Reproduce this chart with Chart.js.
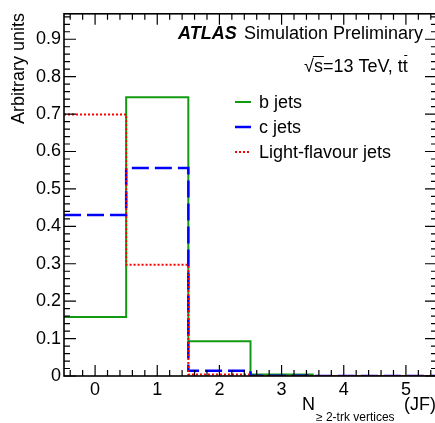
<!DOCTYPE html>
<html>
<head>
<meta charset="utf-8">
<script src="https://cdn.jsdelivr.net/npm/chart.js@4/dist/chart.umd.min.js"></script>
<style>
  html, body { margin: 0; padding: 0; background: #fff; overflow: hidden; }
  #wrap { width: 437px; height: 423px; }
</style>
</head>
<body>
<div id="wrap"><canvas id="c" width="437" height="423"></canvas></div>
<script>
// N(>=2-trk vertices) bins, JetFitter
var bins = [0, 1, 2, 3, 4, 5];
var bJets = [0.158, 0.745, 0.093, 0.004, 0.0, 0.0];
var cJets = [0.430, 0.556, 0.014, 0.001, 0.0, 0.0];
var lightJets = [0.699, 0.297, 0.004, 0.0, 0.0, 0.0];
var xTicks = [0, 1, 2, 3, 4, 5];
var yTicks = [0, 0.1, 0.2, 0.3, 0.4, 0.5, 0.6, 0.7, 0.8, 0.9];

var FONT = '"Liberation Sans", Arial, Helvetica, sans-serif';

// turn bin contents into step points at the bin edges
function histPoints(vals) {
  var pts = [];
  for (var i = 0; i < bins.length; i++) {
    pts.push({x: bins[i] - 0.5, y: vals[i]});
  }
  pts.push({x: bins[bins.length - 1] + 0.5, y: vals[vals.length - 1]});
  return pts;
}

var series = [
  {label: 'b jets', data: histPoints(bJets), borderColor: '#139a13', borderWidth: 2, borderDash: [], order: 3},
  {label: 'c jets', data: histPoints(cJets), borderColor: '#0000ff', borderWidth: 2.5, borderDash: [17, 6], order: 2},
  {label: 'Light-flavour jets', data: histPoints(lightJets), borderColor: '#ff0000', borderWidth: 2, borderDash: [2, 2], order: 1}
];

// ROOT style frame, inward ticks, titles and legend
var atlasDecor = {
  id: 'atlasDecor',
  afterDraw: function(chart) {
    var ctx = chart.ctx, a = chart.chartArea;
    var xs = chart.scales.x, ys = chart.scales.y;
    ctx.save();
    ctx.strokeStyle = '#000';
    ctx.lineWidth = 1.2;
    ctx.setLineDash([]);
    ctx.beginPath();
    // x ticks every 0.2, major at integers
    for (var k = -2; k <= 27; k++) {
      var v = k / 5;
      var px = xs.getPixelForValue(v);
      if (px < a.left || px > a.right) continue;
      var len = (k % 5 === 0) ? 11 : 6;
      ctx.moveTo(px, a.bottom); ctx.lineTo(px, a.bottom - len);
      ctx.moveTo(px, a.top); ctx.lineTo(px, a.top + len);
    }
    // y ticks every 0.02, major every 0.1
    for (var j = 0; j <= 48; j++) {
      var py = ys.getPixelForValue(j * 0.02);
      if (py < a.top) continue;
      var l2 = (j % 5 === 0) ? 12 : 6;
      ctx.moveTo(a.left, py); ctx.lineTo(a.left + l2, py);
      ctx.moveTo(a.right, py); ctx.lineTo(a.right - l2, py);
    }
    ctx.stroke();
    ctx.lineWidth = 1.6;
    ctx.strokeRect(a.left, a.top, a.right - a.left, a.bottom - a.top);

    ctx.fillStyle = '#000';
    ctx.textBaseline = 'alphabetic';

    // y title
    ctx.save();
    ctx.translate(24, 13);
    ctx.rotate(-Math.PI / 2);
    ctx.font = '18px ' + FONT;
    ctx.textAlign = 'right';
    ctx.fillText('Arbitrary units', 0, 0);
    ctx.restore();

    // x title
    ctx.font = '18px ' + FONT;
    ctx.textAlign = 'left';
    ctx.fillText('N', 302, 410);
    ctx.fillText('(JF)', 404, 410);
    ctx.font = '12px ' + FONT;
    ctx.fillText('\u2265 2-trk vertices', 316, 421);

    // ATLAS label
    ctx.font = 'italic bold 18px ' + FONT;
    ctx.fillText('ATLAS', 178, 39);
    ctx.font = '18px ' + FONT;
    ctx.fillText('Simulation Preliminary', 244, 39);

    // sqrt(s) line
    ctx.fillText('\u221a', 304, 72);
    var sx = 304 + ctx.measureText('\u221a').width;
    var rest = 's=13 TeV, t';
    ctx.fillText(rest, sx, 72);
    var tx = sx + ctx.measureText(rest).width;
    ctx.fillText('t', tx, 72);
    ctx.lineWidth = 1;
    ctx.beginPath();
    ctx.moveTo(sx - 1, 56.5); ctx.lineTo(sx + ctx.measureText('s').width + 1, 56.5);
    var tw = ctx.measureText('t').width;
    ctx.moveTo(tx + tw / 2 - 1, 55.5); ctx.lineTo(tx + tw / 2 + 2, 55.5);
    ctx.stroke();

    // legend
    var ly = [102, 127, 152];
    for (var i = 0; i < series.length; i++) {
      var s = series[i];
      ctx.strokeStyle = s.borderColor;
      ctx.lineWidth = s.borderWidth;
      ctx.setLineDash(s.borderDash.length ? [s.borderDash[0] > 5 ? 16 : 2, 2] : []);
      ctx.beginPath();
      ctx.moveTo(235, ly[i]); ctx.lineTo(251, ly[i]);
      ctx.stroke();
      ctx.setLineDash([]);
      ctx.fillStyle = '#000';
      ctx.font = '18px ' + FONT;
      ctx.fillText(s.label, 259, ly[i] + 6);
    }
    ctx.restore();
  }
};

new Chart(document.getElementById('c'), {
  type: 'line',
  data: {
    datasets: series.map(function(s) {
      return {
        label: s.label, data: s.data, borderColor: s.borderColor,
        borderWidth: s.borderWidth, borderDash: s.borderDash, order: s.order,
        stepped: 'before', pointRadius: 0, tension: 0, fill: false,
        borderCapStyle: 'butt'
      };
    })
  },
  options: {
    responsive: false,
    animation: false,
    devicePixelRatio: 1,
    layout: {padding: {top: 8, right: 0, left: 0, bottom: 0}},
    plugins: {legend: {display: false}, tooltip: {enabled: false}},
    scales: {
      x: {
        type: 'linear', min: -0.5, max: 5.5,
        grid: {display: false, drawTicks: false, tickLength: 0}, border: {display: false},
        afterBuildTicks: function(s) { s.ticks = xTicks.map(function(v) { return {value: v}; }); },
        afterFit: function(s) { s.height = 47; },
        ticks: {color: '#000', font: {family: FONT, size: 18}, padding: 3, maxRotation: 0}
      },
      y: {
        type: 'linear', min: 0, max: 0.968,
        grid: {display: false, drawTicks: false, tickLength: 0}, border: {display: false},
        afterBuildTicks: function(s) { s.ticks = yTicks.map(function(v) { return {value: v}; }); },
        afterFit: function(s) { s.width = 64; },
        ticks: {color: '#000', font: {family: FONT, size: 18}, padding: 3,
          callback: function(v) { return v === 0 ? '0' : v.toFixed(1); }}
      }
    }
  },
  plugins: [atlasDecor]
});
</script>
</body>
</html>
